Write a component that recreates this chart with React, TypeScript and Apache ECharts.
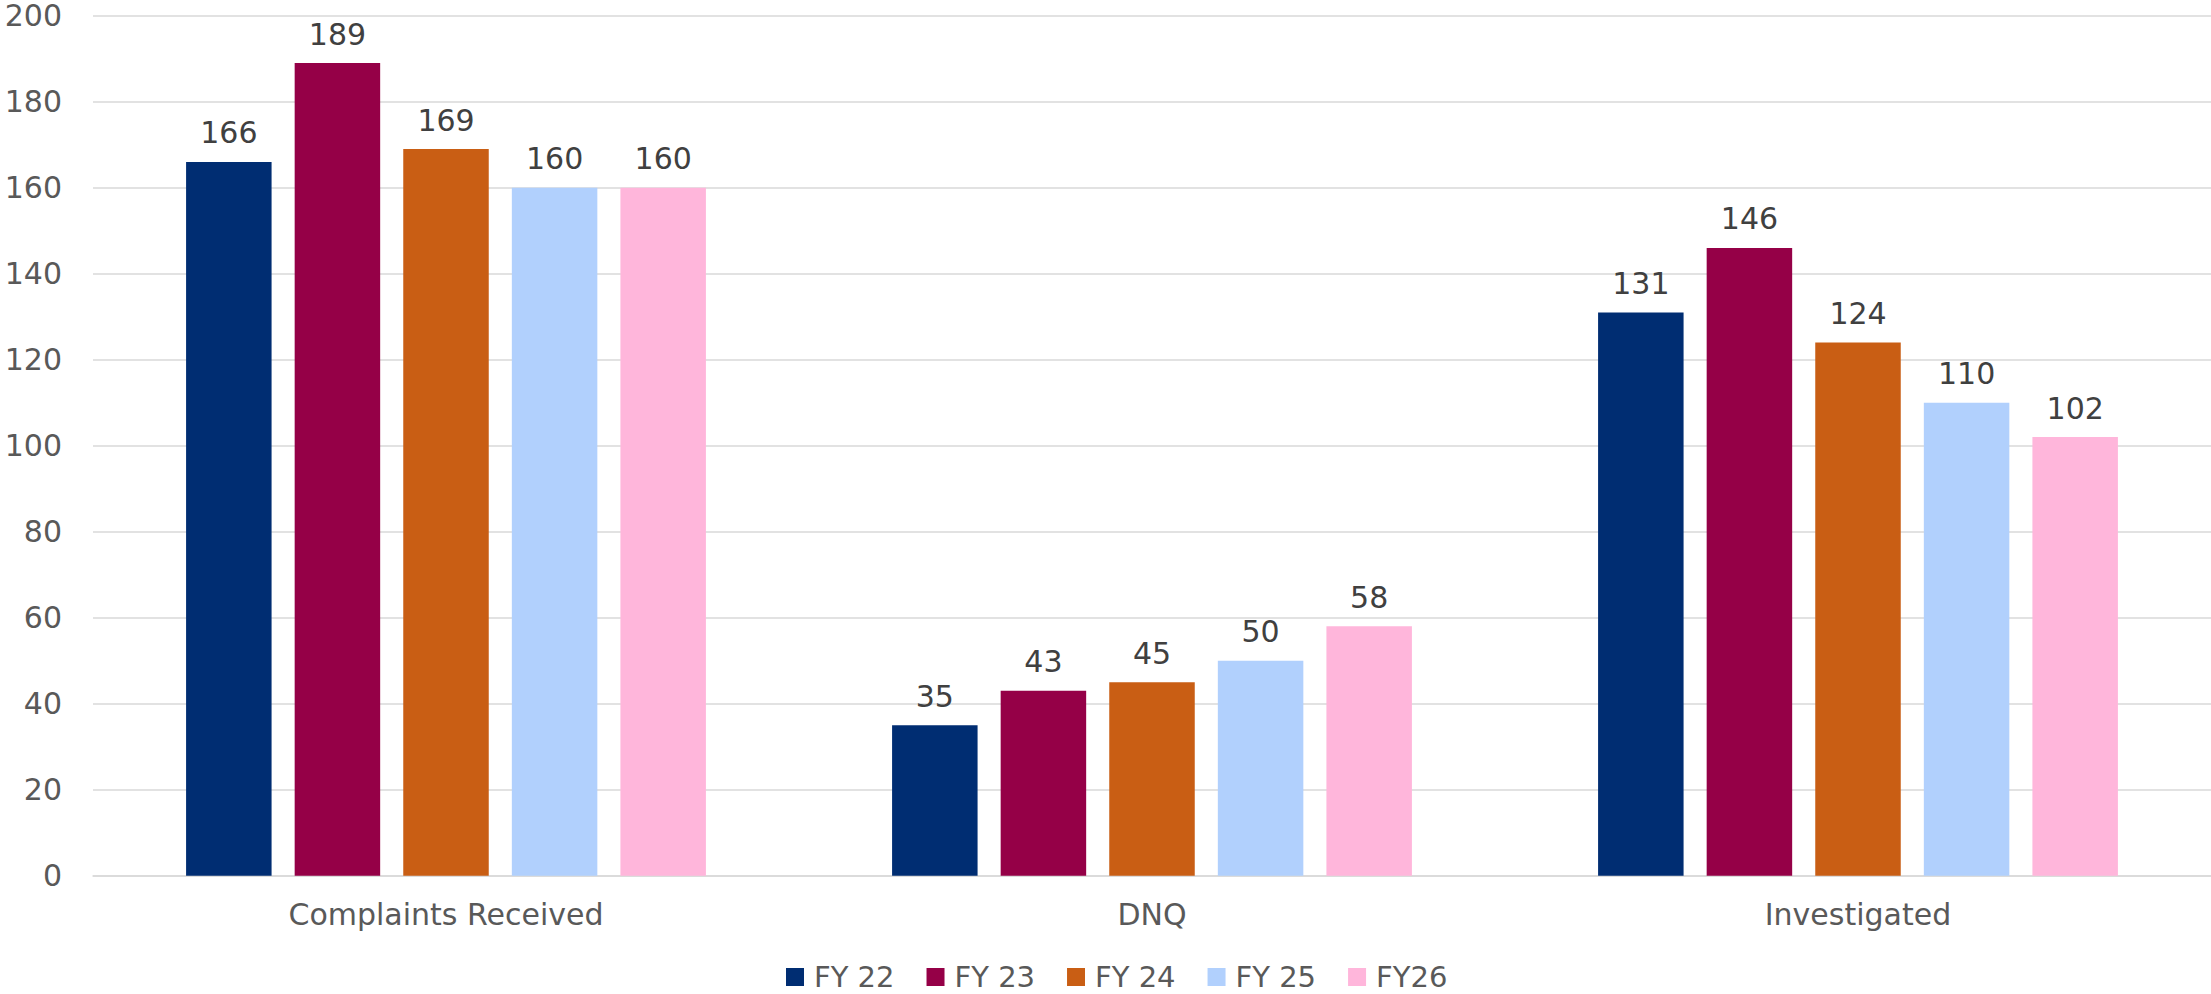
import React, { useEffect, useRef } from "react";
import * as echarts from "echarts";

const categories = ["Complaints Received", "DNQ", "Investigated"];
const seriesNames = ["FY 22", "FY 23", "FY 24", "FY 25", "FY26"];
const fy22 = [166, 35, 131];
const fy23 = [189, 43, 146];
const fy24 = [169, 45, 124];
const fy25 = [160, 50, 110];
const fy26 = [160, 58, 102];
const colors = ["#002D72", "#950047", "#C95E14", "#B1D0FD", "#FFB6DB"];

const FONT = "'DejaVu Sans', sans-serif";

export default function App() {
  const ref = useRef<HTMLDivElement>(null);
  useEffect(() => {
    if (!ref.current) return;
    const chart = echarts.init(ref.current, undefined, { renderer: "svg" });
    const data = [fy22, fy23, fy24, fy25, fy26];
    chart.setOption({
      animation: false,
      backgroundColor: "#ffffff",
      textStyle: { fontFamily: FONT },
      grid: { left: 93, right: 0, top: 15.7, bottom: 118.3, containLabel: false },
      legend: {
        data: seriesNames,
        left: 786,
        top: 962,
        padding: 0,
        icon: "rect",
        itemWidth: 18,
        itemHeight: 18,
        itemGap: 32,
        textStyle: { fontSize: 29, color: "#595959", fontFamily: FONT, lineHeight: 30, padding: [0, 0, 0, 5] },
      },
      xAxis: {
        type: "category",
        data: categories,
        axisLine: { show: true, lineStyle: { color: "#D9D9D9", width: 1.5 } },
        axisTick: { show: false },
        axisLabel: { fontSize: 30, color: "#595959", margin: 24, fontFamily: FONT },
      },
      yAxis: {
        type: "value",
        min: 0,
        max: 200,
        interval: 20,
        axisLine: { show: false },
        axisTick: { show: false },
        splitLine: { lineStyle: { color: "#D9D9D9", width: 1.5 } },
        axisLabel: { fontSize: 30, lineHeight: 24, color: "#595959", margin: 31, fontFamily: FONT },
      },
      series: seriesNames.map((name, i) => ({
        name,
        type: "bar",
        data: data[i],
        barWidth: 85.5,
        barGap: "27%",
        itemStyle: { color: colors[i] },
        label: {
          show: true,
          position: "top",
          distance: 14,
          fontSize: 30,
          color: "#404040",
          fontFamily: FONT,
        },
      })),
    });
    return () => chart.dispose();
  }, []);
  return (
    <div
      ref={ref}
      style={{ position: "absolute", left: 0, top: 0, width: 2211, height: 994 }}
    />
  );
}
